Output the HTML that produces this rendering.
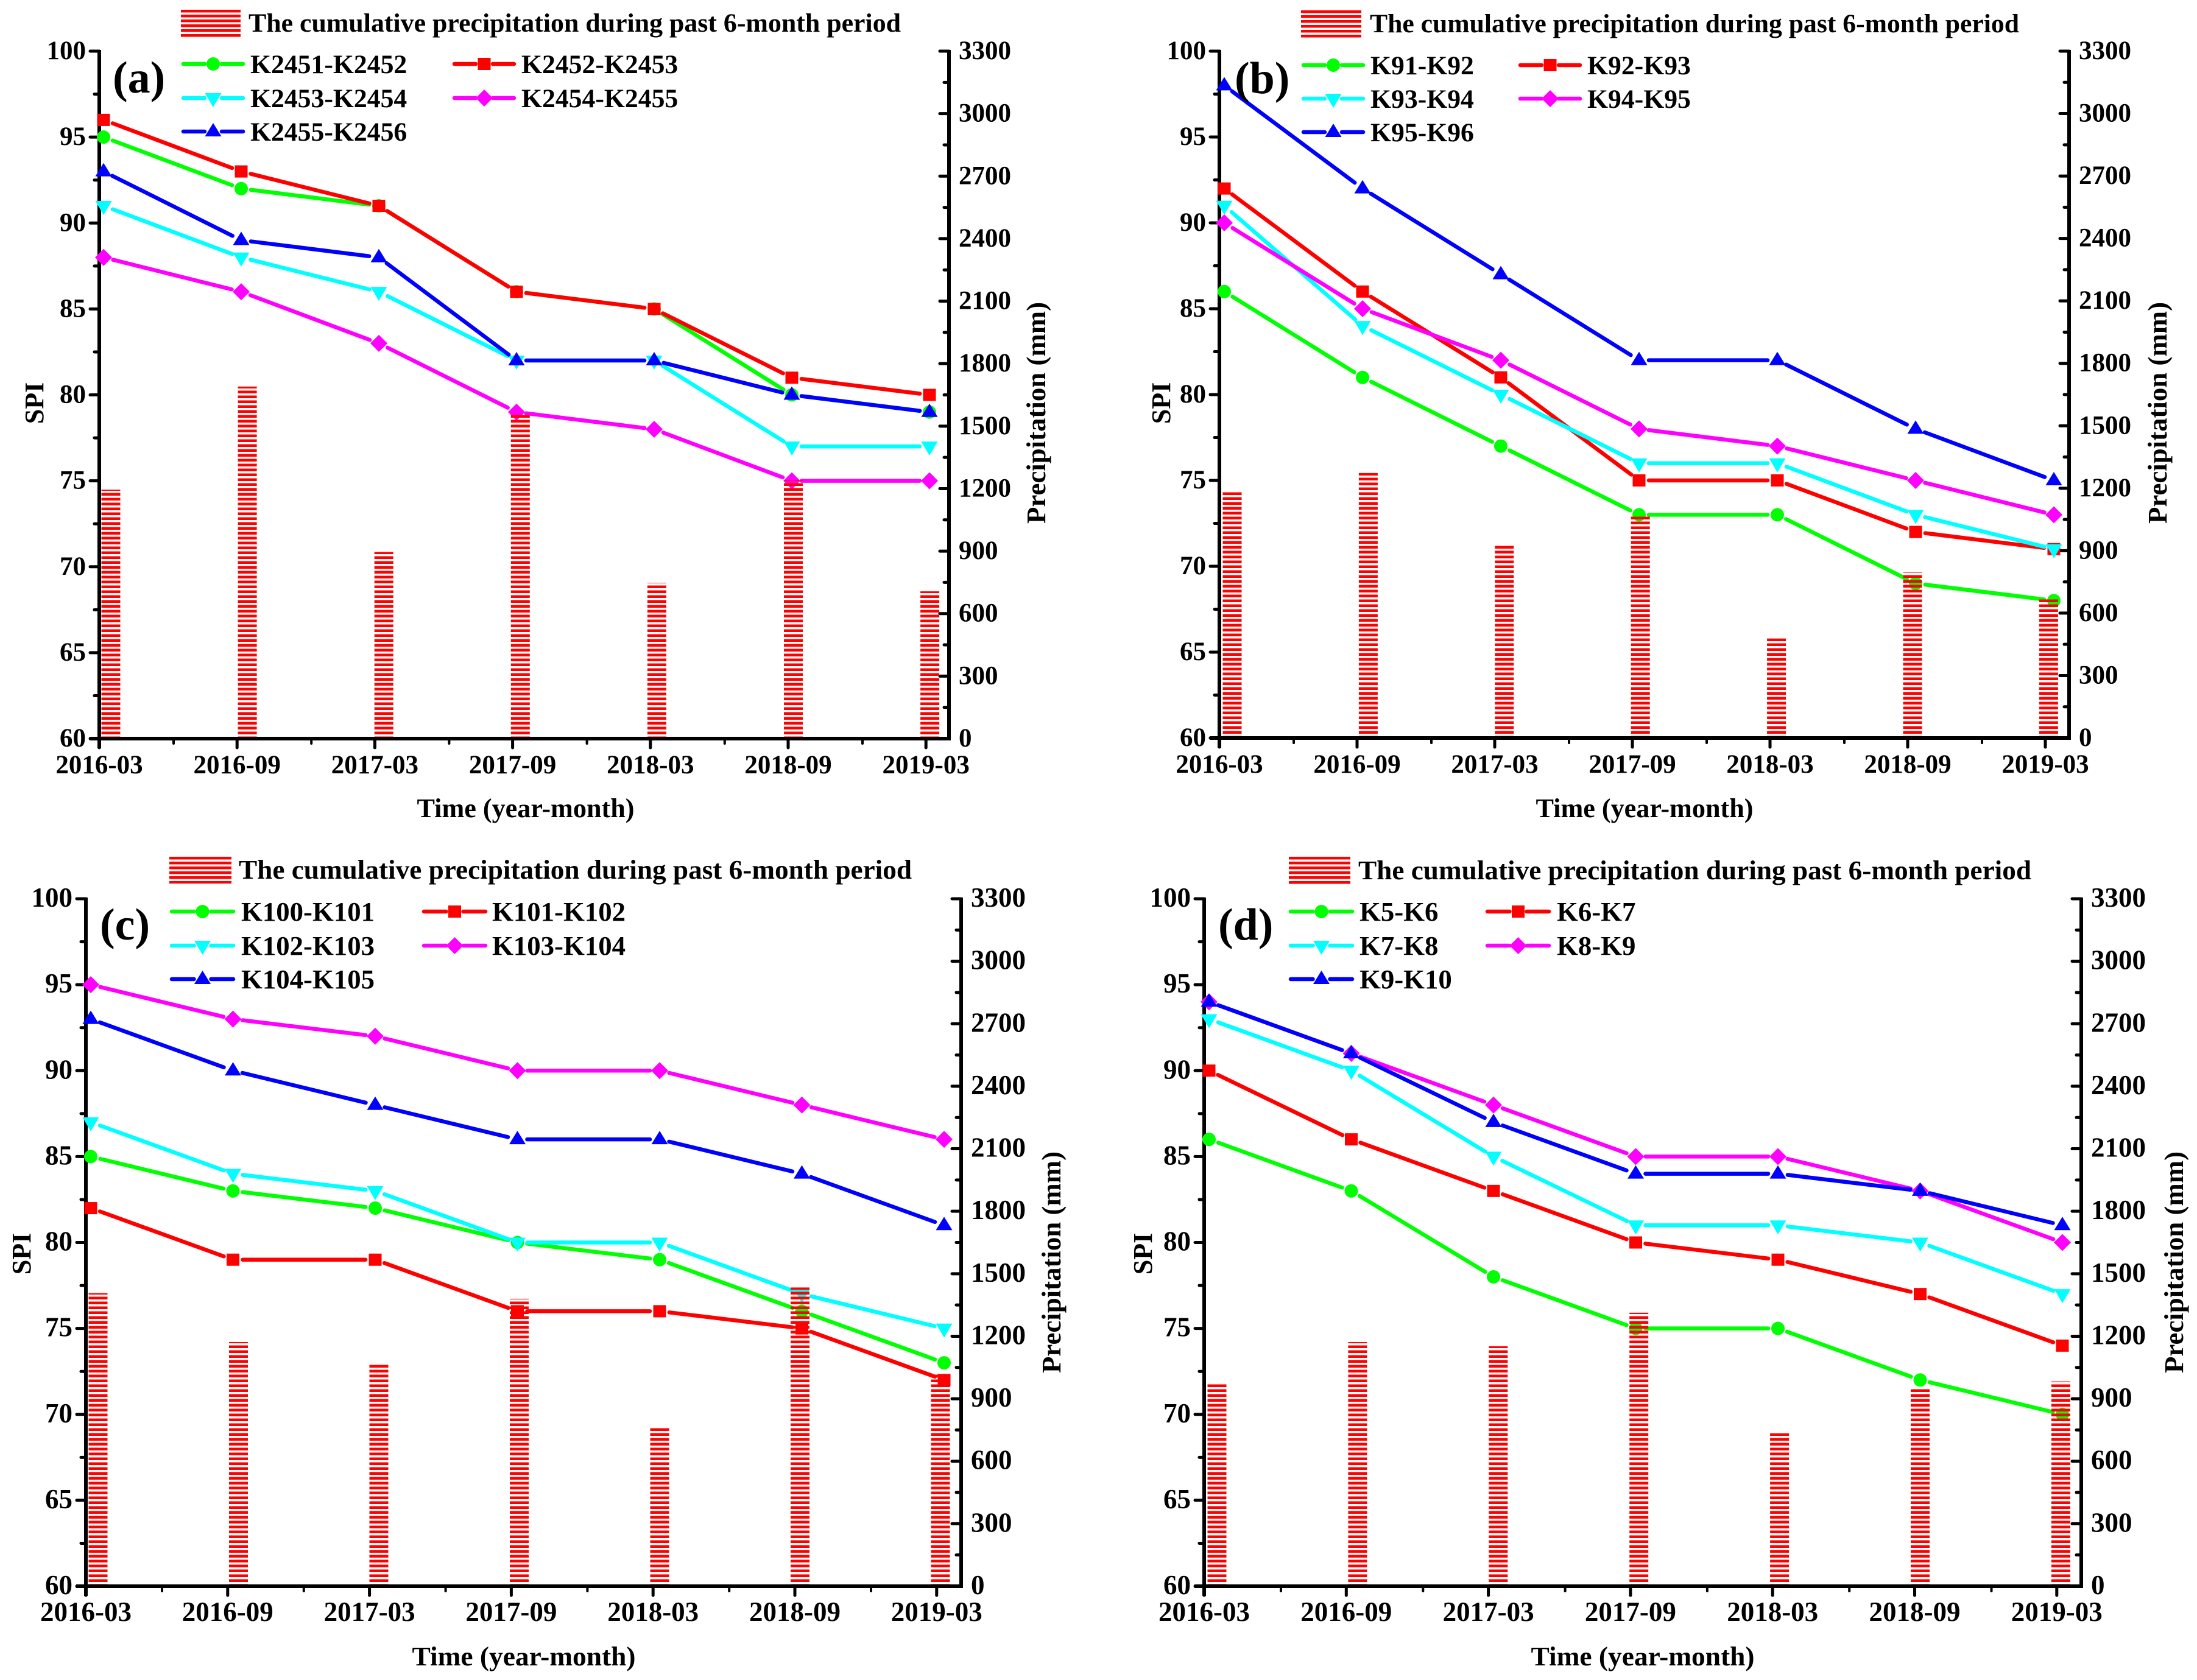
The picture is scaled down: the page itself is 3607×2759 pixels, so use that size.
<!DOCTYPE html>
<html>
<head>
<meta charset="utf-8">
<title>SPI and cumulative precipitation</title>
<style>
html,body{margin:0;padding:0;background:#fff;}
svg{display:block;}
text{font-family:"Liberation Serif",serif;font-weight:bold;fill:#000;}
</style>
</head>
<body>
<svg id="chart" xmlns="http://www.w3.org/2000/svg" width="3607" height="2759" viewBox="0 0 3607 2759">
<rect width="3607" height="2759" fill="#fff"/>
</svg>
<script>
var categories = ['2016-03','2016-09','2017-03','2017-09','2018-03','2018-09','2019-03'];
var spiTicks = [60,65,70,75,80,85,90,95,100];
var precipTicks = [0,300,600,900,1200,1500,1800,2100,2400,2700,3000,3300];

var aNames = ['K2451-K2452','K2452-K2453','K2453-K2454','K2454-K2455','K2455-K2456'];
var aGreen = [95,92,91,86,85,80,79];
var aRed = [96,93,91,86,85,81,80];
var aCyan = [91,88,86,82,82,77,77];
var aMagenta = [88,86,83,79,78,75,75];
var aBlue = [93,89,88,82,82,80,79];
var aPrecip = [1195,1690,896,1560,748,1240,707];

var bNames = ['K91-K92','K92-K93','K93-K94','K94-K95','K95-K96'];
var bGreen = [86,81,77,73,73,69,68];
var bRed = [92,86,81,75,75,72,71];
var bCyan = [91,84,80,76,76,73,71];
var bMagenta = [90,85,82,78,77,75,73];
var bBlue = [98,92,87,82,82,78,75];
var bPrecip = [1185,1273,923,1070,478,795,667];

var cNames = ['K100-K101','K101-K102','K102-K103','K103-K104','K104-K105'];
var cGreen = [85,83,82,80,79,76,73];
var cRed = [82,79,79,76,76,75,72];
var cCyan = [87,84,83,80,80,77,75];
var cMagenta = [95,93,92,90,90,88,86];
var cBlue = [93,90,88,86,86,84,81];
var cPrecip = [1407,1172,1070,1380,761,1434,1017];

var dNames = ['K5-K6','K6-K7','K7-K8','K8-K9','K9-K10'];
var dGreen = [86,83,78,75,75,72,70];
var dRed = [90,86,83,80,79,77,74];
var dCyan = [93,90,85,81,81,80,77];
var dMagenta = [94,91,88,85,85,83,80];
var dBlue = [94,91,87,84,84,83,81];
var dPrecip = [970,1172,1152,1313,734,950,983];

var legendTitle = 'The cumulative precipitation during past 6-month period';
var seriesColors = ['#00ff00','#ff0000','#00ffff','#ff00ff','#0000ff'];
var seriesShapes = ['circle','square','down','diamond','up'];

var svg = document.getElementById('chart');
var NS = 'http://www.w3.org/2000/svg';

function make(tag, attrs, parent) {
  var node = document.createElementNS(NS, tag);
  for (var k in attrs) node.setAttribute(k, attrs[k]);
  parent.appendChild(node);
  return node;
}

function label(parent, str, x, y, size, anchor, name, rotate, fit) {
  var t = make('text', {x: x, y: y, 'font-size': size, 'text-anchor': anchor}, parent);
  if (rotate) t.setAttribute('transform', 'rotate(-90 ' + x + ' ' + y + ')');
  if (fit) {
    t.setAttribute('textLength', fit);
    t.setAttribute('lengthAdjust', 'spacingAndGlyphs');
  }
  t.textContent = str;
  
  
  return t;
}

function drawMarker(parent, shape, x, y, color, name) {
  var m;
  if (shape === 'circle') {
    m = make('circle', {cx: x, cy: y, r: 11, fill: color}, parent);
  } else if (shape === 'square') {
    m = make('rect', {x: x - 10.5, y: y - 10, width: 21, height: 20, fill: color}, parent);
  } else {
    var pts;
    if (shape === 'up') pts = [[x, y - 14], [x + 13.5, y + 8], [x - 13.5, y + 8]];
    if (shape === 'down') pts = [[x, y + 15], [x + 13.5, y - 8], [x - 13.5, y - 8]];
    if (shape === 'diamond') pts = [[x, y - 14], [x + 14, y], [x, y + 14], [x - 14, y]];
    m = make('polygon', {points: pts.map(function (p) { return p.join(','); }).join(' '), fill: color}, parent);
  }
  
  
  return m;
}

function drawPanel(p) {
  var g = make('g', {}, svg);
  
  

  // axis functions
  var spiMin = spiTicks[0], spiMax = spiTicks[spiTicks.length - 1];
  var prMin = precipTicks[0], prMax = precipTicks[precipTicks.length - 1];
  function ySpi(v) { return p.base - (v - spiMin) / (spiMax - spiMin) * (p.base - p.top); }
  function yPr(v) { return p.base - (v - prMin) / (prMax - prMin) * (p.base - p.top); }
  function xTick(i) { return p.tick0 + i * p.tickDx; }
  function xMark(i) { return p.mark0 + i * p.markDx; }
  function xBar(i) { return p.bar0 + i * p.barDx; }

  // hatch patterns
  var defs = make('defs', {}, g);
  var pat = make('pattern', {id: 'hatch-' + p.id, patternUnits: 'userSpaceOnUse', x: 0, y: p.base - 3.5, width: 8, height: 8}, defs);
  make('rect', {x: 0, y: 0, width: 8, height: 4.5, fill: '#ff0000'}, pat);
  var pat2 = make('pattern', {id: 'swatch-' + p.id, patternUnits: 'userSpaceOnUse', x: 0, y: p.swatch[1], width: 8, height: 8}, defs);
  make('rect', {x: 0, y: 0, width: 8, height: 4.5, fill: '#ff0000'}, pat2);

  // axes
  var ax = make('g', {stroke: '#000', 'stroke-linecap': 'round', fill: 'none'}, g);
  
  
  var leftAxis = make('line', {x1: p.left, x2: p.left, y1: p.top - 2, y2: p.base + 16, 'stroke-width': 6, 'stroke-linecap': 'butt'}, ax);
  
  
  var rightAxis = make('line', {x1: p.right, x2: p.right, y1: p.top - 2, y2: p.base + 3, 'stroke-width': 6, 'stroke-linecap': 'butt'}, ax);
  
  
  var bottomAxis = make('line', {x1: p.left - 16, x2: p.right + 3, y1: p.base, y2: p.base, 'stroke-width': 6, 'stroke-linecap': 'butt'}, ax);
  
  

  spiTicks.forEach(function (v, i) {
    var y = ySpi(v);
    var tk = make('line', {x1: p.left - 15, x2: p.left, y1: y, y2: y, 'stroke-width': 5}, ax);
    
    
    if (i < spiTicks.length - 1) {
      var my = ySpi((v + spiTicks[i + 1]) / 2);
      var mt = make('line', {x1: p.left - 8, x2: p.left, y1: my, y2: my, 'stroke-width': 5}, ax);
      
      
    }
    label(g, String(v), p.left - 22, y + 13, p.tickFont, 'end', 'spi-tick-label-' + v);
  });

  precipTicks.forEach(function (v, i) {
    var y = yPr(v);
    var tk = make('line', {x1: p.right - 15, x2: p.right, y1: y, y2: y, 'stroke-width': 5}, ax);
    
    
    if (i < precipTicks.length - 1) {
      var my = yPr((v + precipTicks[i + 1]) / 2);
      var mt = make('line', {x1: p.right - 8, x2: p.right, y1: my, y2: my, 'stroke-width': 5}, ax);
      
      
    }
    label(g, String(v), p.right + 16, y + 13, p.tickFont, 'start', 'precipitation-tick-label-' + v);
  });

  categories.forEach(function (c, i) {
    var x = xTick(i);
    var tk = make('line', {x1: x, x2: x, y1: p.base, y2: p.base + 15, 'stroke-width': 5}, ax);
    
    
    if (i < categories.length - 1) {
      var mt = make('line', {x1: x + p.minorOff, x2: x + p.minorOff, y1: p.base, y2: p.base + 8, 'stroke-width': 4}, ax);
      
      
    }
    label(g, c, x, p.base + 57, p.tickFont, 'middle', 'time-tick-label-' + c);
  });

  // series
  p.series.forEach(function (vals, s) {
    var sg = make('g', {}, g);
    
    
    for (var i = 0; i < vals.length - 1; i++) {
      var x1 = xMark(i), y1 = ySpi(vals[i]), x2 = xMark(i + 1), y2 = ySpi(vals[i + 1]);
      var len = Math.sqrt((x2 - x1) * (x2 - x1) + (y2 - y1) * (y2 - y1));
      var ux = (x2 - x1) / len, uy = (y2 - y1) / len, gap = 16;
      var seg = make('line', {x1: x1 + ux * gap, y1: y1 + uy * gap, x2: x2 - ux * gap, y2: y2 - uy * gap, stroke: seriesColors[s], 'stroke-width': 6.5, 'stroke-linecap': 'round'}, sg);
      
      
    }
    vals.forEach(function (v, i) {
      drawMarker(sg, seriesShapes[s], xMark(i), ySpi(v), seriesColors[s], 'series-point');
    });
  });

  // bars
  p.precip.forEach(function (v, i) {
    var top = yPr(v);
    var bar = make('rect', {x: xBar(i) - 15.5, y: top, width: 31, height: yPr(0) - 3 - top, fill: 'url(#hatch-' + p.id + ')'}, g);
    
    
  });

  // legend
  var lg = make('g', {}, g);
  
  
  var sw = make('rect', {x: p.swatch[0], y: p.swatch[1], width: p.swatch[2], height: p.swatch[3], fill: 'url(#swatch-' + p.id + ')'}, lg);
  
  
  label(lg, legendTitle, p.title[0], p.title[1], p.legFont, 'start', 'precipitation-legend-label', false, p.title[2]);

  p.names.forEach(function (n, s) {
    var col = s % 2, row = Math.floor(s / 2);
    var lx = p.legX[col], ly = p.legY[row], w = p.legW;
    var cx = lx + w / 2;
    var l1 = make('line', {x1: lx + 3, x2: cx - 14, y1: ly, y2: ly, stroke: seriesColors[s], 'stroke-width': 6.5, 'stroke-linecap': 'round'}, lg);
    
    
    var l2 = make('line', {x1: cx + 14, x2: lx + w - 3, y1: ly, y2: ly, stroke: seriesColors[s], 'stroke-width': 6.5, 'stroke-linecap': 'round'}, lg);
    
    
    drawMarker(lg, seriesShapes[s], cx, ly, seriesColors[s], 'legend-marker');
    label(lg, n, p.legTextX[col], ly + 15, p.legFont, 'start', 'legend-entry-' + n);
  });

  // titles
  label(g, '(' + p.id + ')', p.tag[0], p.tag[1], 74, 'start', 'panel-tag-' + p.id);
  label(g, 'SPI', p.spiTitle[0], p.spiTitle[1], 44, 'middle', 'y-axis-title-spi', true);
  label(g, 'Precipitation (mm)', p.prTitle[0], p.prTitle[1], 44, 'middle', 'y-axis-title-precipitation', true, 364);
  label(g, 'Time (year-month)', p.timeTitle[0], p.timeTitle[1], 44, 'middle', 'x-axis-title', false, p.timeTitle[2]);
}

drawPanel({id: 'a', names: aNames, series: [aGreen, aRed, aCyan, aMagenta, aBlue], precip: aPrecip,
  left: 163, right: 1558, top: 84, base: 1213, tick0: 163, tickDx: 226.2, mark0: 170, markDx: 226, bar0: 182, barDx: 224.1, minorOff: 122,
  tickFont: 43, legFont: 43.7, swatch: [297, 16, 98, 46], title: [408, 52, 1071],
  legX: [298, 743], legTextX: [411, 856], legW: 104, legY: [105, 161, 216],
  tag: [185, 152], spiTitle: [71, 662], prTitle: [1716, 678], timeTitle: [863, 1342, 357]});

drawPanel({id: 'b', names: bNames, series: [bGreen, bRed, bCyan, bMagenta, bBlue], precip: bPrecip,
  left: 2002, right: 3397, top: 84, base: 1212, tick0: 2002, tickDx: 226, mark0: 2010, markDx: 227, bar0: 2023, barDx: 223.4, minorOff: 122,
  tickFont: 43, legFont: 43.7, swatch: [2136, 17, 99, 45], title: [2249, 53, 1066],
  legX: [2137, 2493], legTextX: [2250, 2606], legW: 104, legY: [107, 162, 217],
  tag: [2027, 153], spiTitle: [1921, 662], prTitle: [3557, 678], timeTitle: [2700, 1342, 357]});

drawPanel({id: 'c', names: cNames, series: [cGreen, cRed, cCyan, cMagenta, cBlue], precip: cPrecip,
  left: 141, right: 1578, top: 1476, base: 2605, tick0: 141, tickDx: 232.8, mark0: 149, markDx: 233.5, bar0: 161, barDx: 230.5, minorOff: 125,
  tickFont: 45, legFont: 44.8, swatch: [278, 1407, 102, 44], title: [392, 1443, 1105],
  legX: [279, 693], legTextX: [396, 808], legW: 107, legY: [1497, 1553, 1608],
  tag: [164, 1543], spiTitle: [50, 2059], prTitle: [1741, 2073], timeTitle: [860, 2735, 367]});

drawPanel({id: 'd', names: dNames, series: [dGreen, dRed, dCyan, dMagenta, dBlue], precip: dPrecip,
  left: 1977, right: 3417, top: 1476, base: 2605, tick0: 1977, tickDx: 233.3, mark0: 1985, markDx: 233.5, bar0: 1998, barDx: 230.9, minorOff: 126,
  tickFont: 45, legFont: 44.8, swatch: [2116, 1407, 101, 48], title: [2230, 1444, 1105],
  legX: [2116, 2439], legTextX: [2232, 2556], legW: 107, legY: [1497, 1553, 1608],
  tag: [2000, 1543], spiTitle: [1891, 2059], prTitle: [3584, 2073], timeTitle: [2697, 2735, 367]});
</script>
</body>
</html>
